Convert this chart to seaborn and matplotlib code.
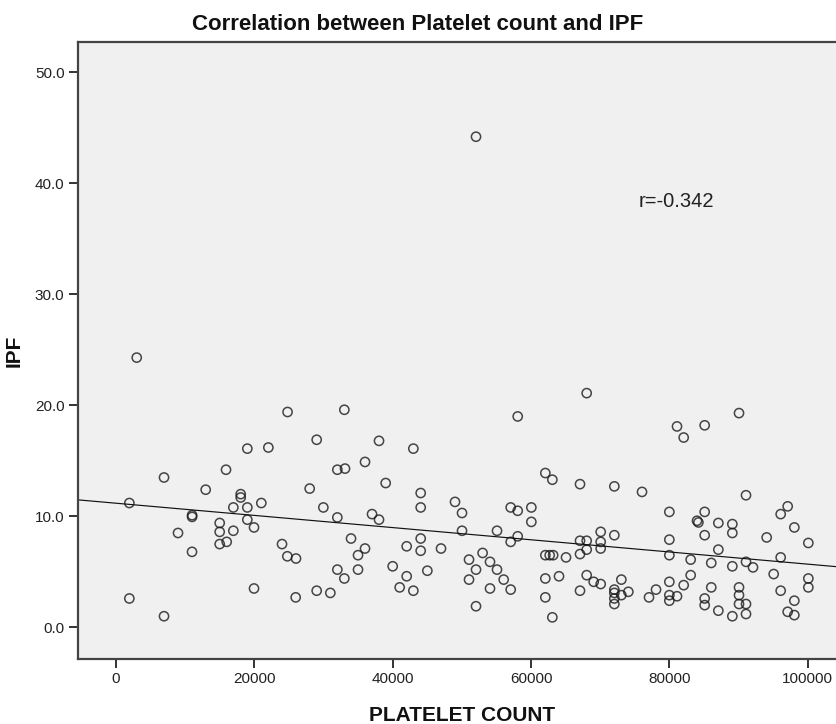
import matplotlib
matplotlib.use("Agg")
import matplotlib.pyplot as plt
import seaborn as sns
import pandas as pd

# Platelet count (per microlitre) and immature platelet fraction (%) for each patient
platelet_count = [
    24800, 18985, 22026, 6940, 15904, 12964, 18025, 18025, 16963, 18985,
    21009, 1927, 11000, 11000, 14988, 14988, 16963, 18985, 19952, 8964,
    14988, 16000, 10988, 24000, 24771, 19952, 1927, 6940, 2993,
    33012, 29012, 38024, 42988, 36000, 32000, 33108, 28000, 38988, 44049,
    44049, 49012, 50024, 29976, 32000, 37012, 38024, 50024, 33976, 44049,
    36000, 34988, 42024, 44049, 46988, 26024, 53000, 51036, 52048, 51036,
    32000, 33012, 34988, 40000, 42024, 45012, 41012, 42988, 25976, 29012,
    30988, 52048, 52049,
    68049, 58075, 62072, 63084, 67084, 72048, 76048, 80000, 57060, 58075,
    60048, 60048, 55084, 58075, 57060, 54072, 55084, 56048, 54072, 57060,
    62072, 62700, 63200, 65060, 62072, 64048, 62072, 63084, 67084, 68049,
    68049, 67084, 70072, 70072, 70072, 72048, 68049, 69061, 70072, 67084,
    73060, 72048, 72048, 72048, 72048, 73060, 74072, 77060, 78072, 80000,
    80000, 80000, 80000, 80000,
    90072, 81108, 82072, 85108, 91084, 97108, 96096, 98072, 100096, 94072,
    85108, 84000, 84200, 87084, 89108, 89108, 85108, 87084, 83084, 86060,
    89108, 91084, 92096, 96096, 95084, 100096, 100096, 96096, 98072, 97108,
    98072, 83084, 82072, 81108, 85108, 85108, 86060, 87084, 89108, 90072,
    90072, 90072, 91084, 91084,
]
ipf = [
    19.4, 16.1, 16.2, 13.5, 14.2, 12.4, 12.0, 11.7, 10.8, 10.8,
    11.2, 11.2, 10.1, 9.95, 9.4, 8.6, 8.7, 9.7, 9.0, 8.5,
    7.5, 7.7, 6.8, 7.5, 6.4, 3.5, 2.6, 1.0, 24.3,
    19.6, 16.9, 16.8, 16.1, 14.9, 14.2, 14.3, 12.5, 13.0, 12.1,
    10.8, 11.3, 10.3, 10.8, 9.9, 10.2, 9.7, 8.7, 8.0, 8.0,
    7.1, 6.5, 7.3, 6.9, 7.1, 6.2, 6.7, 6.1, 5.2, 4.3,
    5.2, 4.4, 5.2, 5.5, 4.6, 5.1, 3.6, 3.3, 2.7, 3.3,
    3.1, 1.9, 44.2,
    21.1, 19.0, 13.9, 13.3, 12.9, 12.7, 12.2, 10.4, 10.8, 10.5,
    10.8, 9.5, 8.7, 8.2, 7.7, 5.9, 5.2, 4.3, 3.5, 3.4,
    6.5, 6.5, 6.5, 6.3, 4.4, 4.6, 2.7, 0.9, 7.8, 7.8,
    7.0, 6.6, 8.6, 7.7, 7.1, 8.3, 4.7, 4.1, 3.9, 3.3,
    4.3, 3.4, 3.1, 2.6, 2.1, 2.9, 3.2, 2.7, 3.4, 4.1,
    7.9, 6.5, 2.9, 2.4,
    19.3, 18.1, 17.1, 18.2, 11.9, 10.9, 10.2, 9.0, 7.6, 8.1,
    10.4, 9.6, 9.45, 9.4, 9.3, 8.5, 8.3, 7.0, 6.1, 5.8,
    5.5, 5.9, 5.4, 6.3, 4.8, 4.4, 3.6, 3.3, 2.4, 1.4,
    1.1, 4.7, 3.8, 2.8, 2.6, 2.0, 3.6, 1.5, 1.0, 3.6,
    2.9, 2.1, 2.1, 1.2,
]

x_ticks = [0, 20000, 40000, 60000, 80000, 100000]
y_ticks = [0.0, 10.0, 20.0, 30.0, 40.0, 50.0]
r_label = "r=-0.342"

df = pd.DataFrame({"PLATELET COUNT": platelet_count, "IPF": ipf})

sns.set_theme(style="white")
plt.rcParams["font.family"] = ["Liberation Sans", "DejaVu Sans"]

fig = plt.figure(figsize=(8.36, 7.24), dpi=100)
ax = fig.add_axes([77.7 / 836, 1 - 659.3 / 724, (846 - 77.7) / 836, (659.3 - 41.7) / 724])
ax.set_facecolor("#F0F0F0")

xlim = (-5540, 105540)
ylim = (-2.88, 52.76)
ax.set_xlim(xlim)
ax.set_ylim(ylim)

sns.regplot(
    data=df, x="PLATELET COUNT", y="IPF", ax=ax, ci=None, truncate=False,
    scatter_kws=dict(s=44, facecolors="none", edgecolors="#1a1a1a", linewidths=1.1),
    line_kws=dict(color="#111111", linewidth=0.85),
)
ax.set_xlim(xlim)
ax.set_ylim(ylim)

ax.set_xticks(x_ticks)
ax.set_xticklabels([f"{v:d}" for v in x_ticks])
ax.set_yticks(y_ticks)
ax.set_yticklabels([f"{v:.1f}" for v in y_ticks])
ax.tick_params(axis="both", which="major", direction="out", length=6.5, width=1.4,
               color="#333333", labelsize=11, labelcolor="#222222", pad=3,
               bottom=True, left=True)

for side in ("left", "top", "bottom"):
    ax.spines[side].set_visible(True)
    ax.spines[side].set_color("#444444")
    ax.spines[side].set_linewidth(1.6)
ax.spines["right"].set_visible(False)

ax.set_xlabel("PLATELET COUNT", fontsize=15, fontweight="bold", color="#111111", labelpad=14)
ax.set_ylabel("IPF", fontsize=15, fontweight="bold", color="#111111", labelpad=8)

ax.text(75513, 38.34, r_label, ha="left", va="center", fontsize=14.5, color="#222222")

fig.text(0.5, 1 - 30 / 724, "Correlation between Platelet count and IPF",
         ha="center", va="baseline", fontsize=16, fontweight="bold", color="#111111")

fig.savefig("out.png", dpi=100, facecolor="white")
